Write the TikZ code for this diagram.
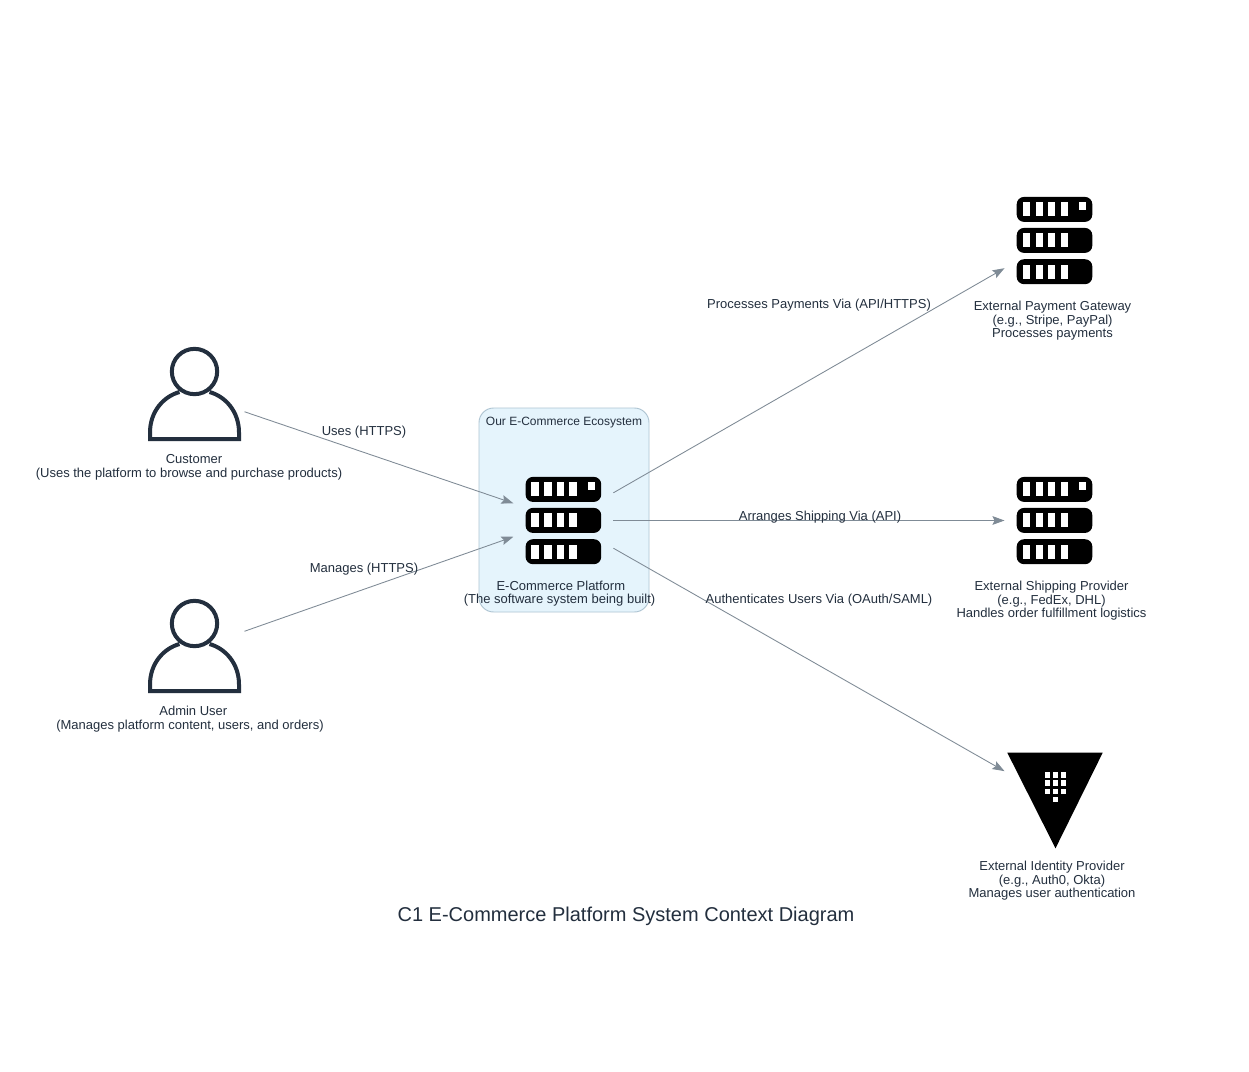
\documentclass[tikz,border=0pt]{standalone}
\usepackage{fontspec}
\setmainfont{Liberation Sans}
\usetikzlibrary{arrows.meta}
\definecolor{inkc}{HTML}{232F3E}
\definecolor{edgec}{HTML}{7F8B96}
\definecolor{boxfill}{HTML}{E5F4FC}
\definecolor{boxline}{HTML}{AEC4D2}
\tikzset{
  x=0.75pt,y=-0.75pt,
  iconbox/.style={minimum width=75pt,minimum height=75pt,inner sep=0pt,outer sep=0pt},
  txt/.style={text=inkc,font=\fontsize{9.75}{10.25}\selectfont,align=center,inner sep=0pt},
  edgelabel/.style={text=inkc,font=\fontsize{9.75}{10.25}\selectfont,inner sep=0pt},
  conn/.style={draw=edgec,line width=0.65pt,-{Stealth[length=9pt,width=6.5pt,inset=1.5pt]}},
  serverpic/.pic={
    \foreach \t in {-43.6,-12.6,18.7}{
      \fill[black,rounded corners=5.5pt] (-37.8,\t) rectangle (37.8,\t+25);
      \foreach \s in {-32,-19,-6.5,6}{
        \fill[white] (\s,\t+5.5) rectangle (\s+7.2,\t+19.3);
      }
    }
    \fill[white] (24.6,-38.1) rectangle (31.4,-31);
  },
  personpic/.pic={
    \draw[inkc,line width=3pt,line join=miter] (0,-24) circle[radius=17pt];
    \draw[inkc,line width=3pt,line join=miter]
      (-15,-3.5) .. controls (-31,1) and (-44.5,16) .. (-44.5,37)
      -- (-44.5,43.5) -- (44.5,43.5) -- (44.5,37)
      .. controls (44.5,16) and (31,1) .. (15,-3.5);
  },
  vaultpic/.pic={
    \fill[black] (-47.2,-47.3) -- (48.2,-47.3) -- (1,48.3) -- cycle;
    \foreach \r in {-27.7,-19.7,-11.3}{
      \foreach \c in {-10,-1.7,6.3}{
        \fill[white] (\c,\r) rectangle (\c+5.4,\r+5.4);
      }
    }
    \fill[white] (-1.7,-3) rectangle (3.7,2.3);
  }
}
\begin{document}
\begin{tikzpicture}
\useasboundingbox (0,0) rectangle (1249,1071);
\fill[white] (0,0) rectangle (1249,1071);
\node[draw=boxline,fill=boxfill,line width=0.7pt,rounded corners=11pt,minimum width=127.5pt,minimum height=153pt,inner sep=0pt] (eco) at (564,510) {};
\node[txt,font=\fontsize{9}{10}\selectfont] (ecolabel) at (564,423) {Our E-Commerce Ecosystem};

\node[iconbox] (customer) at (194.5,395.5) {};
\node[iconbox] (admin) at (194.5,647.5) {};
\node[iconbox] (platform) at (563.4,520.5) {};
\node[iconbox] (payment) at (1054.5,240.5) {};
\node[iconbox] (shipping) at (1054.5,520.5) {};
\node[iconbox] (identity) at (1054.5,800) {};

\pic at (customer.center) {personpic};
\pic at (admin.center) {personpic};
\pic at (platform.center) {serverpic};
\pic at (payment.center) {serverpic};
\pic at (shipping.center) {serverpic};
\pic at (identity.center) {vaultpic};

\draw[conn] (customer.-18.8) -- (platform.161.2);
\draw[conn] (admin.18.8) -- (platform.198.8);
\draw[conn] (platform.29.2) -- (payment.209.2);
\draw[conn] (platform.east) -- (shipping.west);
\draw[conn] (platform.-29.2) -- (identity.150.8);

\node[txt] (customerlabel) at (189,467) {\hspace*{7.5pt}Customer\\(Uses the platform to browse and purchase products)};
\node[txt] (adminlabel) at (190,719) {\hspace*{5pt}Admin User\\(Manages platform content, users, and orders)};
\node[txt] (platformlabel) at (559.5,593.5) {\hspace*{2pt}E-Commerce Platform\\(The software system being built)};
\node[txt] (paymentlabel) at (1052.5,320.7) {External Payment Gateway\\(e.g., Stripe, PayPal)\\Processes payments};
\node[txt] (shippinglabel) at (1051.5,600.7) {External Shipping Provider\\(e.g., FedEx, DHL)\\Handles order fulfillment logistics};
\node[txt] (identitylabel) at (1052,880.7) {External Identity Provider\\(e.g., Auth0, Okta)\\Manages user authentication};

\node[edgelabel] (l1) at (364,432) {Uses (HTTPS)};
\node[edgelabel] (l2) at (364,569) {Manages (HTTPS)};
\node[edgelabel] (l3) at (819,305) {Processes Payments Via (API/HTTPS)};
\node[edgelabel] (l4) at (820,517) {Arranges Shipping Via (API)};
\node[edgelabel] (l5) at (819,600) {Authenticates Users Via (OAuth/SAML)};

\node[text=inkc,font=\fontsize{15}{18}\selectfont,inner sep=0pt] (title) at (626,916) {C1 E-Commerce Platform System Context Diagram};
\end{tikzpicture}
\end{document}
